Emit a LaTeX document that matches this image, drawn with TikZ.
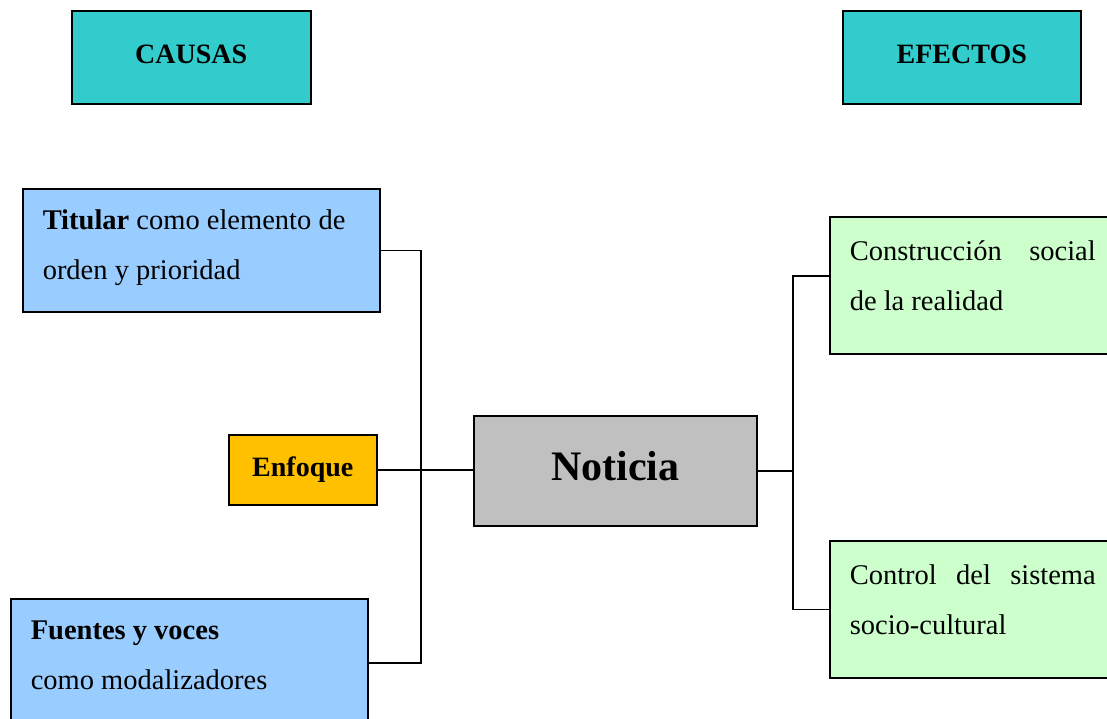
\documentclass[tikz,border=0pt]{standalone}
\usepackage{fontspec}
\setmainfont{Liberation Serif}
\usetikzlibrary{positioning}
\definecolor{turquesa}{HTML}{33CCCC}
\definecolor{azul}{HTML}{99CCFF}
\definecolor{naranja}{HTML}{FFC000}
\definecolor{gris}{HTML}{C0C0C0}
\definecolor{verde}{HTML}{CCFFCC}
\newcommand{\abajo}[1]{\par\vspace{#1}\hrule height 0pt}
\tikzset{
    caja/.style={draw=black, line width=1.5pt, anchor=north west, inner xsep=20pt, inner ysep=0pt},
    texto/.style={font=\fontsize{28.5}{50}\selectfont},
    titulo/.style={font=\fontsize{28}{34}\selectfont\bfseries},
    linea/.style={line width=1.5pt}
}
\begin{document}
\begin{tikzpicture}[x=1pt,y=-1pt]
    \useasboundingbox (0,0) rectangle (1107,718);

    \node [caja, titulo, fill=turquesa, minimum width=239pt, minimum height=93pt] (causas) at (71,10) {\raisebox{6pt}{CAUSAS}};
    \node [caja, titulo, fill=turquesa, minimum width=238pt, minimum height=93pt] (efectos) at (842,10) {\raisebox{6pt}{EFECTOS}};

    \node [caja, texto, fill=azul, text width=317pt, minimum height=123pt, align=flush left] (titular) at (22,188) {\textbf{Titular} como elemento de\\orden y prioridad\abajo{6pt}};
    \node [caja, titulo, fill=naranja, minimum width=148pt, minimum height=70pt] (enfoque) at (228,434) {Enfoque};
    \node [caja, texto, fill=azul, text width=317pt, minimum height=128pt, align=flush left] (fuentes) at (10,598) {\textbf{Fuentes y voces}\\como modalizadores\abajo{14pt}};

    \node [caja, fill=gris, minimum width=283pt, minimum height=110pt, font=\fontsize{42}{50}\selectfont\bfseries] (noticia) at (473,415) {\raisebox{9pt}{Noticia}};

    \node [caja, texto, fill=verde, text width=246pt, minimum height=137pt, align=justify] (construccion) at (829,216) {Construcción social de la realidad\abajo{20pt}};
    \node [caja, texto, fill=verde, text width=246pt, minimum height=137pt, align=justify] (control) at (829,540) {Control del sistema socio-cultural\abajo{20pt}};

    \coordinate (izq) at (421,469);
    \coordinate (der) at (793,469);

    \draw [linea] (titular.east) -| (izq) |- (fuentes.east);
    \draw [linea] (enfoque.east) -- (enfoque.east -| noticia.west);
    \draw [linea] (noticia.east) -- (noticia.east -| der);
    \draw [linea] ([yshift=9.5pt]construccion.west) -| (der) |- (control.west);
\end{tikzpicture}
\end{document}
